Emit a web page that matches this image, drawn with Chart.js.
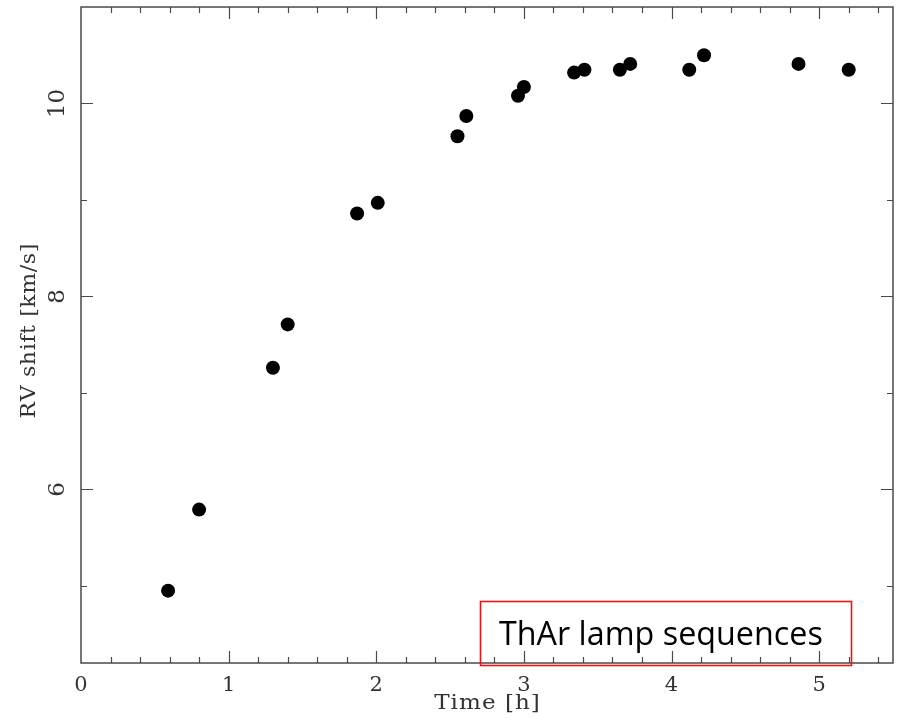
<!DOCTYPE html>
<html>
<head>
<meta charset="utf-8">
<title>RV shift vs time</title>
<script src="https://cdn.jsdelivr.net/npm/chart.js@4.4.1/dist/chart.umd.min.js"></script>
<style>
  html, body { margin: 0; padding: 0; background: #ffffff; }
  #rv { display: block; }
</style>
</head>
<body>
<canvas id="rv" width="901" height="718"></canvas>
<script>
var timeHours = [0.59, 0.80, 1.30, 1.40, 1.87, 2.01, 2.55, 2.61, 2.96, 3.00,
  3.34, 3.41, 3.65, 3.72, 4.12, 4.22, 4.86, 5.20];
var rvShift = [4.95, 5.79, 7.26, 7.71, 8.86, 8.97, 9.66, 9.87, 10.08, 10.17,
  10.32, 10.35, 10.35, 10.41, 10.35, 10.50, 10.41, 10.35];

var xLabels = [0, 1, 2, 3, 4, 5];
var yLabels = [6, 8, 10];
var xTitle = 'Time [h]';
var yTitle = 'RV shift [km/s]';
var boxText = 'ThAr lamp sequences';

var SERIF = '"DejaVu Serif", "Liberation Serif", serif';
var FRAME = '#4a4a4a';
var INK = '#333333';

/**
 * Draws text centred on x, stretched and letter spaced, since the
 * PGPLOT roman font is a lot wider than DejaVu Serif.
 */
function wideText(ctx, text, x, y, stretch, spacing) {
  var chars = text.split('');
  var widths = chars.map(function (c) { return ctx.measureText(c).width * stretch; });
  var total = widths.reduce(function (a, b) { return a + b; }, 0) + spacing * (chars.length - 1);
  var cx = x - total / 2;
  chars.forEach(function (c, i) {
    ctx.save();
    ctx.translate(cx, y);
    ctx.scale(stretch, 1);
    ctx.fillText(c, 0, 0);
    ctx.restore();
    cx += widths[i] + spacing;
  });
}

/**
 * Draws the PGPLOT style frame with inward ticks on all four sides,
 * the rotated y tick labels and both axis titles.
 */
var frameTicks = {
  id: 'frameTicks',
  beforeDatasetsDraw: function (chart) {
    var ctx = chart.ctx;
    var area = chart.chartArea;
    var xs = chart.scales.x;
    var ys = chart.scales.y;

    ctx.save();
    ctx.strokeStyle = FRAME;
    ctx.lineWidth = 1.5;
    ctx.strokeRect(area.left, area.top, area.right - area.left, area.bottom - area.top);

    ctx.lineWidth = 1.2;
    ctx.beginPath();
    xs.ticks.forEach(function (t) {
      var v = t.value;
      if (v <= xs.min || v >= xs.max) return;
      var major = Math.abs(v - Math.round(v)) < 1e-6;
      var len = major ? 12 : 6;
      var px = Math.round(xs.getPixelForValue(v)) + 0.5;
      ctx.moveTo(px, area.bottom);
      ctx.lineTo(px, area.bottom - len);
      ctx.moveTo(px, area.top);
      ctx.lineTo(px, area.top + len);
    });
    ys.ticks.forEach(function (t) {
      var v = t.value;
      if (v <= ys.min || v >= ys.max) return;
      var len = yLabels.indexOf(v) > -1 ? 12 : 6;
      var py = Math.round(ys.getPixelForValue(v)) + 0.5;
      ctx.moveTo(area.left, py);
      ctx.lineTo(area.left + len, py);
      ctx.moveTo(area.right, py);
      ctx.lineTo(area.right - len, py);
    });
    ctx.stroke();

    ctx.fillStyle = INK;
    ctx.textAlign = 'left';
    ctx.textBaseline = 'alphabetic';

    // y tick labels read bottom to top
    ctx.font = '23px ' + SERIF;
    yLabels.forEach(function (v) {
      var w = ctx.measureText(String(v)).width;
      ctx.save();
      ctx.translate(64, ys.getPixelForValue(v));
      ctx.rotate(-Math.PI / 2);
      ctx.fillText(String(v), -w / 2, 0);
      ctx.restore();
    });

    // axis titles
    ctx.font = '21px ' + SERIF;
    wideText(ctx, xTitle, (area.left + area.right) / 2, 709, 1.1, 1);
    ctx.save();
    ctx.translate(35, (area.top + area.bottom) / 2 - 4);
    ctx.rotate(-Math.PI / 2);
    wideText(ctx, yTitle, 0, 0, 1.05, 0.6);
    ctx.restore();
    ctx.restore();
  }
};

/**
 * Red framed caption in the lower right corner.
 */
var captionBox = {
  id: 'captionBox',
  afterDraw: function (chart) {
    var ctx = chart.ctx;
    ctx.save();
    ctx.strokeStyle = '#e8141c';
    ctx.lineWidth = 1.6;
    ctx.strokeRect(480.5, 601.5, 371, 64);
    ctx.fillStyle = '#000000';
    ctx.font = '31px "Open Sans", "Noto Sans", sans-serif';
    var size = 31 * 324 / ctx.measureText(boxText).width;
    ctx.font = size.toFixed(1) + 'px "Open Sans", "Noto Sans", sans-serif';
    ctx.textAlign = 'left';
    ctx.textBaseline = 'alphabetic';
    ctx.fillText(boxText, 499, 645);
    ctx.restore();
  }
};

var points = timeHours.map(function (t, i) {
  return {x: t, y: rvShift[i]};
});

var rvChart = new Chart(document.getElementById('rv'), {
  type: 'scatter',
  data: {
    datasets: [{
      data: points,
      backgroundColor: '#000000',
      borderWidth: 0,
      pointRadius: 7,
      pointHoverRadius: 7
    }]
  },
  options: {
    responsive: false,
    animation: false,
    events: [],
    layout: {padding: {top: 7, right: 8, left: 0, bottom: 0}},
    plugins: {
      legend: {display: false},
      tooltip: {enabled: false}
    },
    scales: {
      x: {
        type: 'linear',
        min: 0,
        max: 5.5,
        afterFit: function (scale) { scale.height = 55; },
        grid: {display: false, drawTicks: false},
        border: {display: false},
        ticks: {
          stepSize: 0.2,
          includeBounds: false,
          autoSkip: false,
          maxRotation: 0,
          padding: 10,
          color: INK,
          font: {family: SERIF, size: 21},
          callback: function (v) {
            var r = Math.round(v);
            return Math.abs(v - r) < 1e-6 && xLabels.indexOf(r) > -1 ? String(r) : '';
          }
        }
      },
      y: {
        type: 'linear',
        min: 4.2,
        max: 11,
        afterFit: function (scale) { scale.width = 81; },
        grid: {display: false, drawTicks: false},
        border: {display: false},
        ticks: {
          display: false,
          stepSize: 1,
          includeBounds: false
        }
      }
    }
  },
  plugins: [frameTicks, captionBox]
});
</script>
</body>
</html>
